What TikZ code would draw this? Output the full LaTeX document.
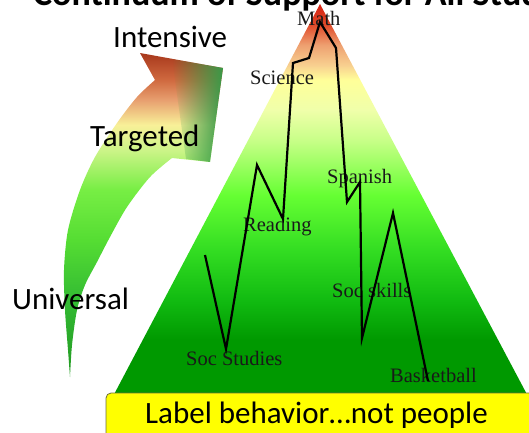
\documentclass[tikz,border=0pt]{standalone}
\usepackage{fontspec}
\setmainfont{Carlito}
\newfontfamily\timesf{Liberation Serif}
\usetikzlibrary{fadings}

\definecolor{tA}{HTML}{009900}
\definecolor{tB}{HTML}{11BB11}
\definecolor{tC}{HTML}{33DD22}
\definecolor{tD}{HTML}{66FF33}
\definecolor{tE}{HTML}{C8FF88}
\definecolor{tF}{HTML}{F0FFAA}
\definecolor{tG}{HTML}{FFFF99}
\definecolor{tH}{HTML}{F8D090}
\definecolor{tI}{HTML}{EEA070}
\definecolor{tJ}{HTML}{E04A2A}
\definecolor{tK}{HTML}{D42010}

\definecolor{aA}{HTML}{229922}
\definecolor{aB}{HTML}{33BB33}
\definecolor{aC}{HTML}{55DD33}
\definecolor{aD}{HTML}{77EE44}
\definecolor{aE}{HTML}{CCF488}
\definecolor{aF}{HTML}{F8F098}
\definecolor{aG}{HTML}{E8A070}
\definecolor{aH}{HTML}{D06A40}
\definecolor{aI}{HTML}{A8381C}
\definecolor{headgreen}{HTML}{3A9A48}
\definecolor{boxyellow}{HTML}{FFFF00}
\definecolor{boxedge}{HTML}{6E6E3A}

\pgfdeclareverticalshading{trishade}{100bp}{%
color(0bp)=(tA); color(25bp)=(tA); color(32.8bp)=(tA); color(37.8bp)=(tB);
color(44.1bp)=(tC); color(51bp)=(tD); color(57.9bp)=(tE); color(61.7bp)=(tF);
color(65.45bp)=(tG); color(67.3bp)=(tH); color(69.85bp)=(tI); color(72.4bp)=(tJ);
color(75bp)=(tK); color(100bp)=(tK)}

\pgfdeclareverticalshading{arrowshade}{100bp}{%
color(0bp)=(aA); color(25bp)=(aA); color(36.9bp)=(aB); color(46.1bp)=(aC);
color(53.9bp)=(aD); color(60bp)=(aE); color(63.9bp)=(aF); color(67.7bp)=(aG);
color(70.8bp)=(aH); color(75bp)=(aI); color(100bp)=(aI)}

\tikzfading[name=fadeToEast, left color=transparent!100, right color=transparent!0]

\tikzset{
  tierlabel/.style={anchor=base west, font=\fontsize{31}{36}\selectfont, text=black, inner sep=0pt},
  subject/.style={anchor=base west, font=\timesf\fontsize{20.5}{24}\selectfont, text=black!90, inner sep=0pt},
  zig/.style={line width=2.2pt, black},
}

\begin{document}
\begin{tikzpicture}[x=1pt,y=-1pt]
\useasboundingbox (0,0) rectangle (529,432);
\clip (0,0) rectangle (529,432);

% title (cut off at the top)
\node[anchor=base west, font=\bfseries\fontsize{36}{40}\selectfont, inner sep=0pt] (title) at (33,5) {Continuum of Support for All Students};

% pyramid
\path[shading=trishade, shading angle=0] (320,4) -- (110,402) -- (531,402) -- cycle;

% curved arrow
\path[shading=arrowshade, shading angle=0]
  (140,53) -- (223,68) -- (210,162) -- (172,158)
  -- plot[smooth] coordinates {(172,158) (150,177) (127,207) (110,237) (97,262) (85,285) (77,310) (72,345) (70,377)}
  -- plot[smooth] coordinates {(70,377) (68,350) (65,310) (64,270) (68,230) (80,190) (95,157) (117,123) (137,97) (155,80)}
  -- cycle;
\fill[headgreen, path fading=fadeToEast] (172,59) -- (223,68) -- (210,162) -- (186,159) -- cycle;

% tier labels
\node[tierlabel] (intensive) at (113,47) {Intensive};
\node[tierlabel] (targeted) at (90,146) {Targeted};
\node[tierlabel] (universal) at (12,309) {Universal};

% subject labels
\node[subject] (math) at (297,25) {Math};
\node[subject] (science) at (250,84) {Science};
\node[subject] (spanish) at (327,183) {Spanish};
\node[subject] (reading) at (243,231) {Reading};
\node[subject] (socskills) at (332,297) {Soc skills};
\node[subject] (socstudies) at (186,365) {Soc Studies};
\node[subject] (basketball) at (390,382) {Basketball};

% zigzag of behaviour
\coordinate (z1) at (205,255);
\coordinate (z2) at (226,349);
\coordinate (z3) at (257,165);
\coordinate (z4) at (283,219);
\coordinate (z5) at (293,63);
\coordinate (z6) at (309,58);
\coordinate (z7) at (320,22);
\coordinate (z8) at (336,48);
\coordinate (z9) at (347,202);
\coordinate (z10) at (360,182);
\coordinate (z11) at (362,338);
\coordinate (z12) at (393,213);
\coordinate (z13) at (428,381);
\draw[zig] (z1) -- (z2) -- (z3) -- (z4) -- (z5) -- (z6) -- (z7) -- (z8) -- (z9) -- (z10) -- (z11) -- (z12) -- (z13);

% bottom box
\draw[fill=boxyellow, draw=boxedge, line width=0.8pt, rounded corners=5pt] (106,393) rectangle (540,445);
\node[tierlabel] (motto) at (145,423) {Label behavior…not people};
\end{tikzpicture}
\end{document}
